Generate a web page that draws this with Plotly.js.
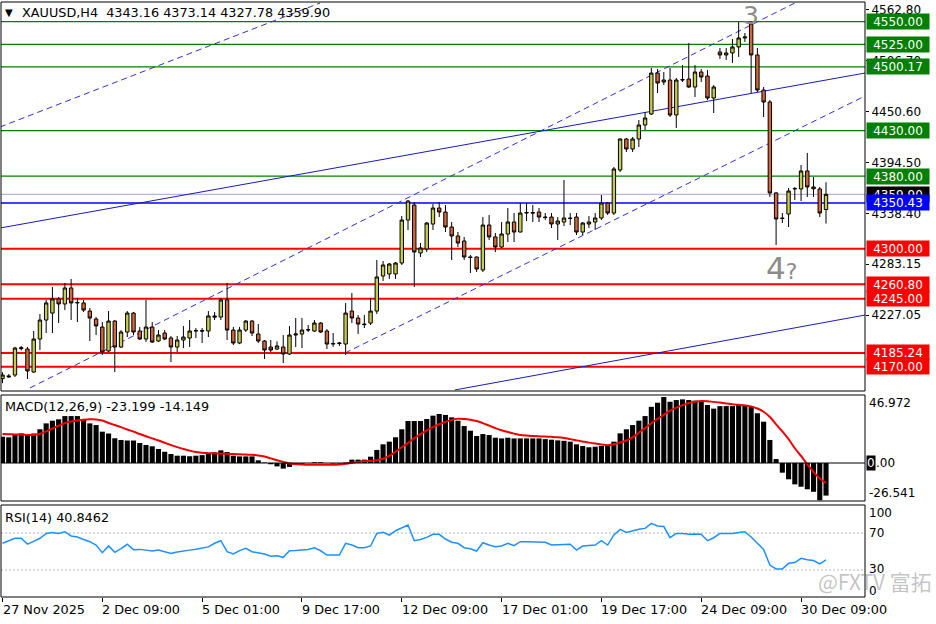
<!DOCTYPE html>
<html><head><meta charset="utf-8">
<script src="https://cdn.plot.ly/plotly-3.0.1.min.js"></script>
<style>html,body{margin:0;padding:0;background:#fff;}#chart{width:936px;height:624px;}</style>
</head><body><div id="chart"></div>
<script>
// ---- data (XAUUSD H4) ----
const openP = [
4157,4160,4161,4190,4189.6,4164.3,4200.6,4221.5,4229.2,4244.7,
4239.2,4256.8,4240.3,4240.3,4231.4,4222.6,4213.8,4187.4,4220.4,4191.8,
4208.3,4229.2,4209.4,4200.6,4213.8,4198.4,4207.2,4201.7,4191.8,4199.5,
4201.7,4209.4,4209.9,4209.4,4226.0,4224.8,4243.6,4210.5,4196.2,4210.5,
4220.4,4206.1,4198.4,4191.8,4189.6,4191.8,4184.1,4205.0,4206.1,4210.5,
4209.4,4218.2,4209.4,4195.1,4195.6,4195.1,4231.4,4223.7,4217.1,4218.2,
4231.4,4270.0,4272.2,4272.2,4284.3,4331.6,4348.1,4295.3,4299.7,4327.2,
4344.8,4340.4,4323.9,4314.0,4308.5,4290.9,4290.9,4276.6,4326.1,4313.0,
4301.9,4316.2,4329.4,4318.4,4339.3,4339.8,4340.4,4334.9,4334.9,4327.2,
4329.4,4333.8,4334.9,4318.4,4327.2,4329.4,4333.8,4350.3,4339.3,4386.7,
4420.8,4409.8,4420.8,4436.2,4448.3,4493.4,4483.5,4485.7,4447.2,4485.7,
4486.8,4478.0,4494.5,4490.1,4465.9,4516.6,4513.3,4515.5,4522.1,4532.0,
4547.4,4513.3,4474.7,4461.5,4361.4,4333.8,4338.2,4365.8,4365.8,4385.6,
4368.0,4365.8,4343.16];
const highP = [
4164,4162,4192,4193,4191.8,4209.4,4228.1,4243.6,4257.9,4246.9,
4262.3,4266.7,4245.8,4243.6,4234.7,4224.8,4219.3,4231.4,4221.5,4210.5,
4231.4,4230.3,4213.8,4243.6,4219.3,4210.5,4210.5,4203.9,4203.9,4214.9,
4221.5,4212.7,4212.7,4231.4,4230.3,4245.8,4262.3,4213.8,4214.0,4221.5,
4221.5,4217.1,4199.5,4199.5,4198.0,4205.0,4214.9,4223.7,4223.7,4216.0,
4221.5,4219.3,4211.6,4207.2,4197.3,4240.3,4251.3,4227.0,4227.0,4245.8,
4287.6,4286.5,4284.3,4285.4,4336.0,4353.6,4351.4,4306.3,4329.4,4349.2,
4351.4,4348.1,4329.4,4318.4,4312.9,4293.1,4291.5,4334.9,4337.1,4317.3,
4329.4,4344.8,4339.3,4350.3,4350.3,4348.1,4344.8,4339.3,4339.3,4334.9,
4375.7,4339.3,4339.3,4329.4,4336.0,4339.3,4359.1,4351.4,4390.0,4421.5,
4421.9,4423.0,4441.7,4450.5,4499.0,4497.8,4494.5,4499.0,4488.0,4502.2,
4526.5,4502.2,4497.8,4496.7,4480.2,4521.0,4521.0,4530.9,4549.6,4537.5,
4550.5,4521.0,4478.0,4463.7,4362.5,4339.3,4366.9,4368.0,4392.2,4405.4,
4378.9,4368.0,4373.14];
const lowP = [
4152,4158,4158.8,4188,4156.6,4163.2,4188.5,4207.2,4207.2,4218.2,
4232.5,4221.5,4219.3,4230.3,4198.4,4205.0,4183.0,4186.3,4164.3,4190.7,
4202.8,4205.0,4199.5,4197.3,4196.2,4197.3,4199.5,4175.3,4186.3,4190.7,
4191.8,4201.7,4196.2,4202.8,4221.5,4221.5,4199.5,4194.0,4195.0,4208.3,
4203.9,4196.2,4178.6,4186.3,4188.5,4174.2,4183.0,4191.8,4190.7,4208.3,
4208.3,4207.2,4189.6,4192.0,4193.0,4183.0,4218.2,4206.1,4212.7,4216.0,
4228.1,4264.5,4266.7,4266.7,4282.1,4320.6,4257.9,4290.9,4296.4,4320.6,
4334.9,4318.4,4287.6,4301.9,4287.6,4273.3,4274.4,4274.4,4309.6,4296.4,
4300.8,4307.4,4307.4,4318.0,4330.5,4329.4,4329.4,4331.6,4322.8,4309.6,
4325.0,4326.1,4315.1,4315.1,4322.8,4320.6,4331.6,4337.1,4337.1,4384.5,
4406.5,4406.5,4412.0,4430.7,4447.2,4471.4,4480.2,4445.0,4432.9,4483.5,
4477.0,4467.0,4483.5,4463.7,4449.4,4508.9,4507.8,4504.5,4511.1,4527.6,
4471.4,4472.5,4445.0,4357.0,4304.1,4328.3,4323.9,4353.6,4352.5,4357.0,
4357.0,4334.9,4327.78];
const closeP = [
4161,4159,4190.7,4191,4165.4,4200.6,4221.5,4240.3,4244.7,4239.2,
4256.8,4240.3,4240.8,4232.5,4223.7,4215.0,4186.3,4220.4,4191.8,4208.3,
4229.2,4208.3,4200.6,4213.8,4197.3,4205.0,4200.6,4191.8,4199.5,4202.8,
4209.4,4209.9,4209.4,4226.0,4224.8,4243.6,4210.5,4196.2,4210.5,4220.4,
4207.2,4198.4,4188.5,4188.5,4193.0,4184.1,4205.0,4206.1,4210.5,4211.0,
4218.2,4208.3,4195.1,4195.6,4196.2,4229.2,4223.7,4217.1,4216.5,4231.4,
4268.9,4282.1,4283.2,4284.3,4331.6,4352.5,4296.4,4300.8,4328.3,4344.8,
4340.4,4323.9,4314.0,4306.3,4290.9,4290.4,4277.7,4326.1,4313.0,4301.9,
4316.2,4329.4,4318.4,4339.3,4339.8,4339.3,4334.9,4334.4,4327.2,4330.5,
4333.8,4333.3,4318.4,4328.3,4329.4,4333.8,4350.3,4339.3,4387.8,4420.8,
4409.8,4420.8,4436.2,4443.9,4493.4,4482.4,4485.7,4447.2,4485.7,4486.2,
4478.0,4494.5,4489.0,4465.9,4478.0,4513.3,4515.5,4522.1,4532.0,4533.1,
4513.3,4474.7,4461.5,4361.4,4332.7,4333.3,4363.5,4366.3,4385.6,4368.0,
4366.0,4339.3,4359.90];
const macdMain = [
18.7,18.3,20.0,21.1,20.4,21.0,24.0,28.2,30.1,31.1,
33.4,33.4,33.4,31.1,28.2,27.0,22.3,21.0,17.6,16.4,
16.0,16.0,14.2,12.8,11.9,10.0,8.0,6.4,5.2,5.2,
4.8,5.2,5.6,6.4,7.6,9.0,7.8,5.2,4.7,4.7,
4.7,1.9,0.3,-0.9,-2.4,-4.0,-2.8,-1.5,-0.5,0.0,
0.5,0.5,0.0,-0.3,-0.3,0.3,2.4,2.4,2.4,4.5,
9.3,13.3,15.2,18.3,24.0,29.9,29.9,29.9,31.3,33.7,
34.9,34.2,32.5,30.1,26.3,23.0,19.2,20.6,19.9,18.0,
17.5,18.0,17.5,17.5,17.5,17.5,17.5,17.0,16.6,16.1,
15.8,15.2,13.3,12.1,11.2,11.6,12.1,12.8,15.2,21.1,
24.0,27.0,30.1,33.4,40.0,42.9,46.97,43.6,44.8,45.3,
44.8,44.4,43.6,41.3,38.7,40.5,40.5,40.5,41.3,41.3,
40.5,35.4,29.4,16.4,2.8,-6.9,-11.6,-15.2,-16.9,-18.7,
-20.5,-26.54,-23.2];
const macdSignal = [
20.6,20.5,20.3,20.2,20.0,19.9,20.8,22.5,24.5,26.5,
28.3,29.5,30.3,30.8,31.1,31.0,30.2,28.5,27.0,25.5,
23.8,22.3,20.6,19.0,17.5,16.0,14.4,12.8,11.3,10.0,
8.8,7.8,7.3,7.0,6.8,6.6,6.5,6.4,6.2,6.0,
5.8,5.4,4.6,3.3,2.0,0.8,-0.3,-0.8,-1.1,-1.2,
-1.3,-1.3,-1.3,-1.2,-1.1,-0.6,0.2,0.8,1.2,1.5,
1.9,3.0,5.0,8.0,11.2,14.3,17.5,20.5,23.2,25.5,
27.6,29.3,30.7,31.5,31.4,30.8,29.9,28.4,26.6,24.8,
23.3,22.0,20.9,20.0,19.5,19.2,19.0,18.8,18.6,18.3,
17.8,17.0,16.1,15.3,14.5,13.8,13.2,12.7,13.3,14.6,
16.0,18.2,21.5,24.8,28.3,31.4,34.3,37.2,39.4,41.2,
42.6,43.6,44.1,44.0,43.5,43.0,42.3,41.8,41.4,41.0,
40.3,38.8,36.5,32.8,27.5,22.5,17.0,10.5,5.0,-1.0,
-6.5,-11.0,-14.15];
const rsiVals = [
58.9,62,64.3,64.3,58,61,64.3,69.6,70.5,69.6,
71.4,66.8,65.7,63,60.6,57,48.7,56,49.1,53,
57.8,52,52.3,51.5,50.5,51.6,50,48,49.5,50.8,
51.5,52.5,53.4,55,58.9,61.7,49.8,47.3,51,53.4,
49.8,48.5,47.3,45,45.5,43.7,50.8,51,51.6,52.2,
54.1,50.8,46.2,46.2,46.2,58.9,57,54.1,54.1,56,
69.6,70.7,67.8,72.5,76,78.6,61.7,63,65.3,68.6,
68.6,63.5,60,58.9,54.1,53,50.5,59.5,57,55.2,
55.9,58.9,56.3,60.6,60.6,60.6,60.6,59.9,57,57.5,
57.8,57.8,51.6,55.9,56.5,57,61.7,57,68,74,
70.7,72.5,74,75,80.5,77.6,77,64.9,69.6,69.6,
68.6,68.9,68.6,61.7,64.9,69.6,69.6,69.6,70.5,71.4,
65.7,59.5,52.3,35.4,31.1,31.1,37.2,38,42.6,41,
40.3,36.5,40.85];
const tickIdx = [0,16,32,48,64,80,96,112,128];
const tickText = ['27 Nov 2025','2 Dec 09:00','5 Dec 01:00','9 Dec 17:00','12 Dec 09:00','17 Dec 01:00','19 Dec 17:00','24 Dec 09:00','30 Dec 09:00'];
const priceTicks = [4562.80,4506.70,4450.60,4394.50,4338.40,4283.15,4227.05];
const greenLevels = [4550.00,4525.00,4500.17,4430.00,4380.00];
const redLevels = [4300.00,4260.80,4245.00,4185.24,4170.00];
const blueLevel = 4350.43;
const lastPrice = 4359.90;
// analyst trend lines: [bar index, price] -> [bar index, price]
const dashedLines = [[-0.4,4434.0,50.9,4570.5],[4.4,4146.7,127.0,4570.5],[54.9,4185.2,138.25,4468.1]];
const solidLines = [[-0.4,4322.8,138.25,4493.4],[72.5,4144.5,138.25,4227.0]];

// ---- layout helpers (pixel -> paper) ----
const W=936,H=624,ML=1,MR=71,MT=2,MB=27;
const PW=W-ML-MR, PH=H-MT-MB;
const PX = x => (x-ML)/PW;
const PY = y => (H-MB-y)/PH;
const FONT = 'DejaVu Sans';
const idx = openP.map((_,i)=>i);

const traces = [
 {type:'candlestick', x:idx, open:openP, high:highP, low:lowP, close:closeP, xaxis:'x', yaxis:'y',
  increasing:{line:{color:'#000',width:1}, fillcolor:'#c8cc4c'},
  decreasing:{line:{color:'#000',width:1}, fillcolor:'#d5663a'},
  whiskerwidth:0, hoverinfo:'skip', showlegend:false},
 {type:'bar', x:idx, y:macdMain, xaxis:'x', yaxis:'y2', marker:{color:'#000', line:{width:0}}, width:0.82, hoverinfo:'skip'},
 {type:'scatter', mode:'lines', x:idx, y:macdSignal, xaxis:'x', yaxis:'y2', line:{color:'#ee0000', width:2, shape:'spline'}, hoverinfo:'skip'},
 {type:'scatter', mode:'lines', x:idx, y:rsiVals, xaxis:'x', yaxis:'y3', line:{color:'#1e90ff', width:1.5}, hoverinfo:'skip'}
];

const shapes = [];
['y domain','y2 domain','y3 domain'].forEach(r=>shapes.push({type:'rect', xref:'paper', yref:r, x0:0,x1:1,y0:0,y1:1, line:{color:'#000',width:1}, fillcolor:'rgba(0,0,0,0)', layer:'above'}));
greenLevels.forEach(v=>shapes.push({type:'line', xref:'paper', yref:'y', x0:0,x1:1,y0:v,y1:v, line:{color:'#008000',width:1.2}, layer:'below'}));
shapes.push({type:'line', xref:'paper', yref:'y', x0:0,x1:1,y0:lastPrice,y1:lastPrice, line:{color:'#a4a4dc',width:1}, layer:'below'});
shapes.push({type:'line', xref:'paper', yref:'y', x0:0,x1:1,y0:blueLevel,y1:blueLevel, line:{color:'#0000ff',width:1.5}, layer:'below'});
redLevels.forEach(v=>shapes.push({type:'line', xref:'paper', yref:'y', x0:0,x1:1,y0:v,y1:v, line:{color:'#ff0000',width:2}, layer:'below'}));
dashedLines.forEach(l=>shapes.push({type:'line', xref:'x', yref:'y', x0:l[0],y0:l[1],x1:l[2],y1:l[3], line:{color:'#2f2fd0',width:1,dash:'6px,4px'}, layer:'below'}));
solidLines.forEach(l=>shapes.push({type:'line', xref:'x', yref:'y', x0:l[0],y0:l[1],x1:l[2],y1:l[3], line:{color:'#1a1ab8',width:1}, layer:'below'}));
shapes.push({type:'line', xref:'paper', yref:'y2', x0:0,x1:1,y0:0,y1:0, line:{color:'#000',width:1}, layer:'above'});
[70,30].forEach(v=>shapes.push({type:'line', xref:'paper', yref:'y3', x0:0,x1:1,y0:v,y1:v, line:{color:'#b8b8b8',width:1,dash:'2px,2px'}, layer:'below'}));

const ann = [];
function txt(x,y,t,o){ann.push(Object.assign({xref:'paper',yref:'paper',x:PX(x),y:PY(y),text:t,showarrow:false,xanchor:'left',yanchor:'middle',font:{family:FONT,size:12,color:'#000'}},o||{}));}
function box(v,color){ann.push({xref:'paper',yref:'y',x:PX(866),y:v,text:v.toFixed(2),showarrow:false,xanchor:'left',yanchor:'middle',bgcolor:color,width:60,height:13,borderpad:1,align:'center',font:{family:FONT,size:12,color:'#fff'}});}
box(lastPrice,'#000');
greenLevels.forEach(v=>box(v,'#008000'));
box(blueLevel,'#0000ff');
redLevels.forEach(v=>box(v,'#ff0000'));
const F13 = {family:FONT,size:12.8,color:'#000'};
txt(3,12,'▼',{font:{family:FONT,size:10,color:'#000'}});
txt(20,12,'XAUUSD,H4&nbsp;&nbsp;4343.16 4373.14 4327.78 4359.90',{font:F13});
txt(3,406,'MACD(12,26,9) -23.199 -14.149',{font:F13});
txt(3,517,'RSI(14) 40.8462',{font:F13});
txt(867,403,'46.972');
txt(866,463,'0',{bgcolor:'#000',font:{family:FONT,size:12,color:'#fff'},borderpad:0});
txt(874,463,'.00');
txt(867,493,'-26.541');
txt(867,513,'100'); txt(867,533,'70'); txt(867,569,'30'); txt(867,591,'0');
txt(751,15,'3',{xanchor:'center',font:{family:FONT,size:25,color:'#8c8c8c'}});
txt(764,268,'4<span style="font-size:22px">?</span>',{font:{family:FONT,size:31,color:'#8c8c8c'}});
txt(934,581,'@FXTV 富拓',{xanchor:'right',font:{family:'Noto Sans CJK SC',size:21,color:'rgba(110,110,110,0.42)'}});
tickIdx.forEach((t,i)=>ann.push({xref:'x',yref:'paper',x:t,y:PY(609),text:tickText[i],showarrow:false,xanchor:'left',yanchor:'middle',xshift:-2,font:F13}));

const layout = {
 width:W, height:H, margin:{l:ML,r:MR,t:MT,b:MB,pad:0},
 paper_bgcolor:'#fff', plot_bgcolor:'#fff', showlegend:false, boxgap:0.22,
 xaxis:{range:[-0.24,138.25], anchor:'y3', showgrid:false, zeroline:false, showticklabels:false,
        tickmode:'array', tickvals:tickIdx, ticks:'outside', ticklen:4, tickcolor:'#000', rangeslider:{visible:false}, fixedrange:true},
 yaxis:{domain:[PY(391),1], range:[4143.39,4571.6], side:'right', anchor:'x', showgrid:false, zeroline:false,
        tickmode:'array', tickvals:priceTicks, ticktext:priceTicks.map(v=>v.toFixed(2)), ticks:'outside', ticklen:3, tickcolor:'#000',
        tickfont:{family:FONT,size:12,color:'#000'}, fixedrange:true},
 yaxis2:{domain:[PY(501),PY(395)], range:[-27.05,48.4], anchor:'x', showgrid:false, zeroline:false, showticklabels:false, fixedrange:true},
 yaxis3:{domain:[0,PY(505)], range:[0.8,100.3], anchor:'x', showgrid:false, zeroline:false, showticklabels:false, fixedrange:true},
 shapes:shapes, annotations:ann
};
Plotly.newPlot('chart', traces, layout, {displayModeBar:false, staticPlot:true});
</script></body></html>
